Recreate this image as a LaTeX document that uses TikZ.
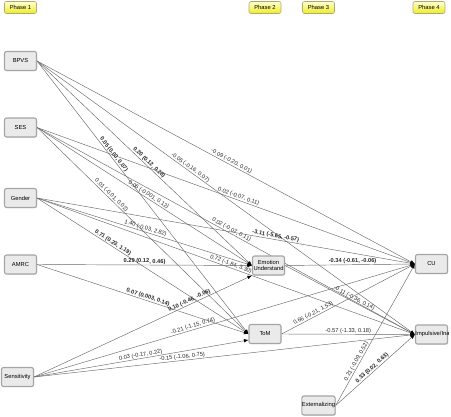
\documentclass[tikz,border=0pt]{standalone}
\usepackage{fontspec}
\setmainfont{Liberation Sans}
\usetikzlibrary{arrows.meta,calc,shadows}
\definecolor{boxfill}{RGB}{234,234,234}
\definecolor{boxline}{RGB}{165,165,165}
\definecolor{edgecol}{RGB}{105,105,105}
\definecolor{phtop}{RGB}{255,255,215}
\definecolor{phbot}{RGB}{240,236,30}
\definecolor{phline}{RGB}{175,170,110}
\begin{document}
\pgfdeclarelayer{bg}
\pgfsetlayers{bg,main}
\begin{tikzpicture}[x=1pt,y=-1pt,
  box/.style={draw=boxline, line width=1.1pt, rounded corners=2pt, fill=boxfill,
    minimum width=32pt, minimum height=19pt, inner sep=0pt, align=center,
    font=\fontsize{5.8}{6.6}\selectfont,
    drop shadow={opacity=0.25, shadow xshift=0.7pt, shadow yshift=-0.7pt}},
  phasebox/.style={draw=phline, line width=0.6pt, rounded corners=2pt,
    top color=phtop, bottom color=phbot, minimum width=32pt, minimum height=12pt,
    inner sep=0pt, font=\fontsize{5.8}{6.6}\selectfont},
  edge/.style={draw=edgecol, line width=0.45pt,
    -{Latex[length=4.5pt,width=3.6pt,color=black]}},
  lab/.style={sloped, above, inner sep=0.6pt, text=black!85,
    font=\fontsize{5.7}{6.2}\selectfont},
  bl/.style={lab, font=\fontsize{5.7}{6.2}\selectfont\bfseries}]
\useasboundingbox (0,0) rectangle (451,417);

% phase labels
\node[phasebox] (ph1) at (20.5,7.5) {Phase 1};
\node[phasebox] (ph2) at (265,7.5) {Phase 2};
\node[phasebox] (ph3) at (318.5,7.5) {Phase 3};
\node[phasebox] (ph4) at (429,7.5) {Phase 4};

% nodes
\node[box] (bpvs) at (20.5,61) {BPVS};
\node[box] (ses) at (20.5,127.5) {SES};
\node[box] (gen) at (20.5,198) {Gender};
\node[box] (amrc) at (20.5,264.5) {AMRC};
\node[box] (sens) at (17.5,377) {Sensitivity};
\node[box] (emo) at (268.5,265.5) {Emotion\\Understand};
\node[box] (tom) at (265,334) {ToM};
\node[box] (cu) at (431.5,264) {CU};
\node[box] (imp) at (431.5,334.5) {};
\node[box] (ext) at (318.5,405.5) {Externalizing};
\begin{scope}
  \clip (imp.south west) rectangle (imp.north east);
  \node[anchor=west, inner sep=0pt, font=\fontsize{5.8}{6.6}\selectfont] (imptext)
    at ($(imp.west)+(0.3,0)$) {Impulsive/Inattentive};
\end{scope}
\coordinate (tomlow) at ($(tom.west)+(0,6)$);

\begin{pgfonlayer}{bg}
% BPVS
\draw[edge] (bpvs.east) -- node[bl,pos=0.35]{0.05 (0.03, 0.07)} (tom.west);
\draw[edge] (bpvs.east) -- node[bl,pos=0.51]{0.20 (0.12, 0.28)} (emo.west);
\draw[edge] (bpvs.east) -- node[lab,pos=0.40]{-0.05 (-0.16, 0.07)} (imp.west);
\draw[edge] (bpvs.east) -- node[lab,pos=0.51]{-0.09 (-0.20, 0.01)} (cu.west);
% SES
\draw[edge] (ses.east) -- node[lab,pos=0.34]{0.01 (-0.01, 0.02)} (tom.west);
\draw[edge] (ses.east) -- node[lab,pos=0.51]{0.06 (-0.001, 0.12)} (emo.west);
\draw[edge] (ses.east) -- node[lab,pos=0.53]{0.02 (-0.07, 0.11)} (cu.west);
\draw[edge] (ses.east) -- node[lab,pos=0.51]{0.02 (-0.07, 0.11)} (imp.west);
% Gender
\draw[edge] (gen.east) -- node[bl,pos=0.63]{-3.11 (-5.65, -0.57)} (cu.west);
\draw[edge] (gen.east) -- node[lab,pos=0.50]{1.40 (-0.03, 2.82)} (emo.west);
\draw[edge] (gen.east) -- node[bl,pos=0.35]{0.71 (0.23, 1.19)} (tom.west);
\draw[edge] (gen.east) -- node[lab,pos=0.51]{0.72 (-1.84, 3.30)} (imp.west);
% AMRC
\draw[edge] (amrc.east) -- node[bl,pos=0.50]{0.29 (0.12, 0.46)} (emo.west);
\draw[edge] (amrc.east) -- node[bl,pos=0.52]{0.07 (0.003, 0.14)} (tom.west);
% Sensitivity
\draw[edge] (sens.east) -- node[bl,pos=0.72]{0.10 (-0.46, -0.06)} (emo.south west);
\draw[edge] (sens.east) -- node[lab,pos=0.42]{-0.21 (-1.15, 0.74)} (cu.west);
\draw[edge] (sens.east) -- node[lab,pos=0.50]{0.03 (-0.17, 0.22)} (tomlow);
\draw[edge] (sens.east) -- node[lab,pos=0.39]{-0.15 (-1.06, 0.75)} (imp.west);
% Emotion Understand
\draw[edge] (emo.east) -- node[bl,pos=0.52]{-0.34 (-0.61, -0.06)} (cu.west);
\draw[edge] (emo.east) -- node[lab,pos=0.52]{-0.11 (-0.36, 0.14)} (imp.west);
% ToM
\draw[edge] (tom.east) -- node[lab,pos=0.25]{0.66 (-0.21, 1.53)} (cu.west);
\draw[edge] (tom.east) -- node[lab,pos=0.50]{-0.57 (-1.33, 0.18)} (imp.west);
% Externalizing
\draw[edge] (ext.east) -- node[lab,pos=0.30]{0.21 (-0.09, 0.52)} (cu.west);
\draw[edge] (ext.east) -- node[bl,pos=0.49]{0.33 (0.02, 0.63)} (imp.west);
\end{pgfonlayer}
\end{tikzpicture}
\end{document}
